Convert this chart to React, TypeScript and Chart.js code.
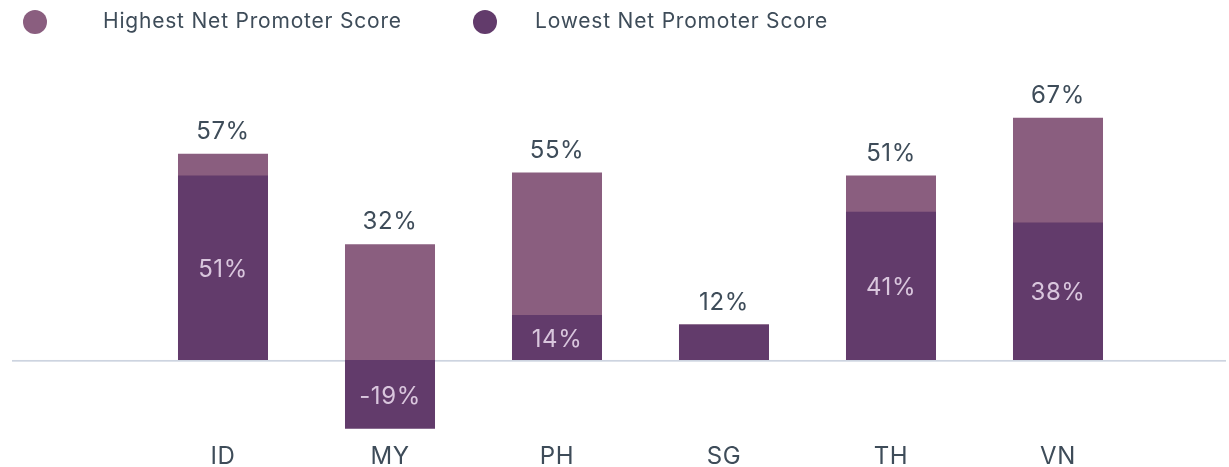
import React, { useEffect, useRef } from "react";
import { Chart, registerables } from "chart.js";

Chart.register(...registerables);

const categories = ["ID", "MY", "PH", "SG", "TH", "VN"];
const highestValues = [57, 32, 51.8, 9.8, 51, 67];
const lowestValues = [51, -19, 12.4, 9.8, 41, 38];
const highestLabels = ["57%", "32%", "55%", "12%", "51%", "67%"];
const lowestLabels = ["51%", "-19%", "14%", "", "41%", "38%"];
const seriesNames = ["Highest Net Promoter Score", "Lowest Net Promoter Score"];

const HIGH_COLOR = "#8a5e7f";
const LOW_COLOR = "#623b6b";
const TEXT_COLOR = "#3e4c59";
const INNER_TEXT = "#d9c6dd";
const FONT = "Inter, 'Open Sans', sans-serif";

const overlayPlugin = {
  id: "overlay",
  beforeDatasetsDraw(chart: any) {
    const ctx = chart.ctx;
    const y = chart.scales.y.getPixelForValue(0);
    ctx.save();
    ctx.fillStyle = "#cdd4e0";
    ctx.fillRect(12, y, 1214, 1.7);
    ctx.restore();
  },
  afterDraw(chart: any) {
    const ctx = chart.ctx;
    const xs = chart.scales.x;
    const ys = chart.scales.y;
    ctx.save();
    // legend
    const legendItems = [
      { name: seriesNames[0], color: HIGH_COLOR, cx: 35, tx: 103 },
      { name: seriesNames[1], color: LOW_COLOR, cx: 485, tx: 535 },
    ];
    ctx.font = `21px ${FONT}`;
    (ctx as any).letterSpacing = "0.8px";
    ctx.textBaseline = "middle";
    ctx.textAlign = "left";
    legendItems.forEach((it) => {
      ctx.fillStyle = it.color;
      ctx.beginPath();
      ctx.arc(it.cx, 22, 12, 0, Math.PI * 2);
      ctx.fill();
      ctx.fillStyle = TEXT_COLOR;
      ctx.fillText(it.name, it.tx, 22);
    });
    // value and category labels
    ctx.font = `24px ${FONT}`;
    (ctx as any).letterSpacing = "0.6px";
    ctx.textAlign = "center";
    ctx.textBaseline = "middle";
    categories.forEach((c, i) => {
      const x = xs.getPixelForValue(i);
      const top = ys.getPixelForValue(Math.max(highestValues[i], lowestValues[i], 0));
      ctx.fillStyle = TEXT_COLOR;
      ctx.fillText(highestLabels[i], x, top - 22);
      if (lowestLabels[i]) {
        const y0 = ys.getPixelForValue(0);
        const y1 = ys.getPixelForValue(lowestValues[i]);
        ctx.fillStyle = INNER_TEXT;
        ctx.fillText(lowestLabels[i], x, (y0 + y1) / 2 + 2);
      }
      ctx.fillStyle = TEXT_COLOR;
      ctx.fillText(c, x, 457);
    });
    ctx.restore();
  },
};

export default function App() {
  const ref = useRef<HTMLCanvasElement>(null);
  useEffect(() => {
    document.body.style.margin = "0";
    if (!ref.current) return;
    const chart = new Chart(ref.current, {
      type: "bar",
      data: {
        labels: categories,
        datasets: [
          {
            label: seriesNames[0],
            data: highestValues,
            backgroundColor: HIGH_COLOR,
            grouped: false,
            order: 1,
            barPercentage: 0.539,
            categoryPercentage: 1,
          } as any,
          {
            label: seriesNames[1],
            data: lowestValues,
            backgroundColor: LOW_COLOR,
            grouped: false,
            order: 0,
            barPercentage: 0.539,
            categoryPercentage: 1,
          } as any,
        ],
      },
      options: {
        responsive: false,
        animation: false,
        layout: { padding: { left: 139.5, right: 87.5, top: 106.8, bottom: 34.7 } },
        plugins: { legend: { display: false }, tooltip: { enabled: false } },
        scales: {
          x: { display: false },
          y: { display: false, min: -20, max: 70 },
        },
      },
      plugins: [overlayPlugin],
    });
    return () => chart.destroy();
  }, []);
  return (
    <div style={{ width: 1229, height: 467 }}>
      <canvas ref={ref} width={1229} height={467} />
    </div>
  );
}
